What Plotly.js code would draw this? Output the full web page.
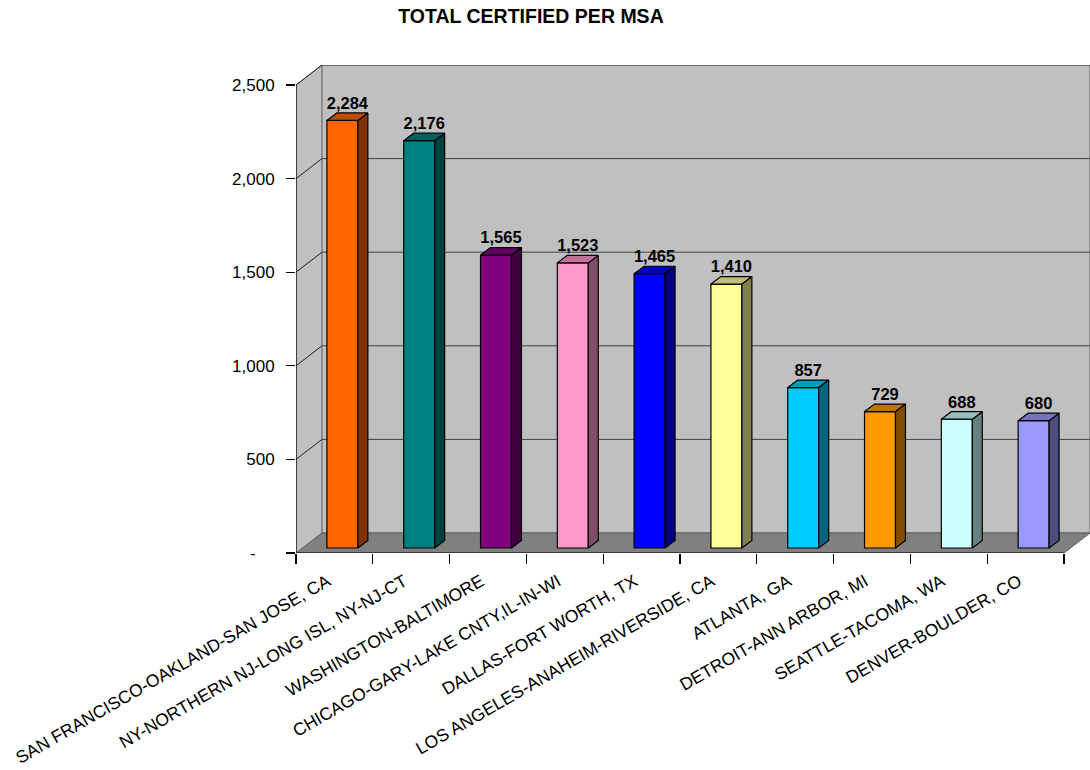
<!DOCTYPE html>
<html>
<head>
<meta charset="utf-8">
<script src="https://cdn.plot.ly/plotly-3.0.1.min.js"></script>
<style>html,body{margin:0;padding:0;background:#fff;}#chart{width:1090px;height:770px;}</style>
</head>
<body>
<div id="chart"></div>
<script>
// ---- data ----
const categories = [
  "SAN FRANCISCO-OAKLAND-SAN JOSE, CA",
  "NY-NORTHERN NJ-LONG ISL, NY-NJ-CT",
  "WASHINGTON-BALTIMORE",
  "CHICAGO-GARY-LAKE CNTY,IL-IN-WI",
  "DALLAS-FORT WORTH, TX",
  "LOS ANGELES-ANAHEIM-RIVERSIDE, CA",
  "ATLANTA, GA",
  "DETROIT-ANN ARBOR, MI",
  "SEATTLE-TACOMA, WA",
  "DENVER-BOULDER, CO"
];
const values = [2284, 2176, 1565, 1523, 1465, 1410, 857, 729, 688, 680];
const barColors = ["#FF6600", "#008080", "#800080", "#FF99CC", "#0000FF",
                   "#FFFF99", "#00CCFF", "#FF9900", "#CCFFFF", "#9999FF"];
const yTickVals = [0, 500, 1000, 1500, 2000, 2500];
const yTickText = ["-\u00A0\u00A0\u00A0\u00A0", "500", "1,000", "1,500", "2,000", "2,500"];
const titleText = "TOTAL CERTIFIED PER MSA";

// ---- geometry (pixel-derived 3D offsets converted to data units) ----
const PX_PER_CAT = 76.9, PX_PER_UNIT = 0.1872;
const DX = 26 / PX_PER_CAT, DY = 20 / PX_PER_UNIT;       // wall depth
const FX = 8 / PX_PER_CAT, FY = 5 / PX_PER_UNIT;         // bar front offset
const BW = 31 / PX_PER_CAT;                              // bar width
const BDX = 10 / PX_PER_CAT, BDY = 7.5 / PX_PER_UNIT;    // bar depth
const N = categories.length;
const xr = [-0.5, N - 0.5 + DX];
const yr = [0, 2500 + DY];

function shade(hex, f) {
  const n = parseInt(hex.slice(1), 16);
  const r = Math.round(((n >> 16) & 255) * f), g = Math.round(((n >> 8) & 255) * f), b = Math.round((n & 255) * f);
  return "rgb(" + r + "," + g + "," + b + ")";
}

const FAM = "Liberation Sans, Arial, sans-serif";
const idx = categories.map((c, i) => i);
const traces = [];
// front faces
traces.push({
  type: "bar", x: idx.map(i => i + FX), y: values, base: FY, width: BW,
  marker: {color: barColors, line: {color: "#000", width: 1.2}},
  hoverinfo: "skip", showlegend: false
});
// side and top faces
values.forEach((v, i) => {
  const xl = i + FX - BW / 2, xrr = i + FX + BW / 2, yb = FY, yt = FY + v;
  traces.push({
    type: "scatter", mode: "lines", fill: "toself", fillcolor: shade(barColors[i], 0.5),
    x: [xrr, xrr + BDX, xrr + BDX, xrr, xrr], y: [yb, yb + BDY, yt + BDY, yt, yb],
    line: {color: "#000", width: 1.2}, hoverinfo: "skip", showlegend: false
  });
  traces.push({
    type: "scatter", mode: "lines", fill: "toself", fillcolor: shade(barColors[i], 0.75),
    x: [xl, xrr, xrr + BDX, xl + BDX, xl], y: [yt, yt, yt + BDY, yt + BDY, yt],
    line: {color: "#000", width: 1.2}, hoverinfo: "skip", showlegend: false
  });
});
// data labels
traces.push({
  type: "scatter", mode: "text", xaxis: "x2",
  x: idx.map(i => i + FX + BDX / 2), y: values.map(v => v + FY + BDY),
  text: values.map(v => v.toLocaleString("en-US")), textposition: "top center",
  textfont: {family: FAM, size: 16.5, color: "#000", weight: "bold"},
  cliponaxis: false, hoverinfo: "skip", showlegend: false
});

// ---- frame shapes ----
const L = -0.5, R = N - 0.5;
const shapes = [];
shapes.push({type: "path", xref: "x", yref: "y", layer: "below",
  path: `M${L},0 L${L},2500 L${L + DX},${2500 + DY} L${L + DX},${DY} Z`,
  fillcolor: "#C0C0C0", line: {color: "#808080", width: 1}});
shapes.push({type: "rect", xref: "x", yref: "y", layer: "below",
  x0: L + DX, x1: R + DX, y0: DY, y1: 2500 + DY,
  fillcolor: "#C0C0C0", line: {color: "#808080", width: 1.5}});
shapes.push({type: "path", xref: "x", yref: "y", layer: "below",
  path: `M${L},0 L${R},0 L${R + DX},${DY} L${L + DX},${DY} Z`,
  fillcolor: "#808080", line: {color: "#606060", width: 1}});
yTickVals.slice(1).forEach(v => {
  shapes.push({type: "line", xref: "x", yref: "y", layer: "below",
    x0: L + DX, x1: R + DX, y0: v + DY, y1: v + DY, line: {color: "#404040", width: 1}});
  shapes.push({type: "line", xref: "x", yref: "y", layer: "below",
    x0: L, x1: L + DX, y0: v, y1: v + DY, line: {color: "#202020", width: 1}});
});
shapes.push({type: "line", xref: "x", yref: "y", x0: L, x1: L, y0: 0, y1: 2500, line: {color: "#000", width: 1.2}});
shapes.push({type: "line", xref: "x", yref: "y", x0: L, x1: R, y0: 0, y1: 0, line: {color: "#000", width: 1.2}});

const font = {family: FAM, size: 17, color: "#000"};
const layout = {
  width: 1090, height: 770,
  margin: {l: 296, r: 0, t: 65, b: 217, pad: 0},
  paper_bgcolor: "#fff", plot_bgcolor: "rgba(0,0,0,0)",
  font: font,
  title: {text: titleText, x: 531 / 1090, xref: "container", xanchor: "center",
          y: 1 - 16 / 770, yref: "container", yanchor: "middle",
          font: {family: FAM, size: 19.5, color: "#000", weight: "bold"}},
  xaxis: {type: "linear", range: xr, tickvals: idx, ticktext: categories, tickangle: -30,
          ticks: "", ticklabelstandoff: 14, ticklabelshift: -7,
          showgrid: false, zeroline: false, showline: false, fixedrange: true,
          tickfont: {family: FAM, size: 17.5, color: "#000"}},
  xaxis2: {type: "linear", range: xr, overlaying: "x", anchor: "y", side: "bottom",
           tickvals: [L].concat(idx.map(i => i + 0.5)), ticks: "outside", ticklen: 10,
           tickcolor: "#000", tickwidth: 1.2, showticklabels: false, showgrid: false,
           zeroline: false, showline: false, fixedrange: true},
  yaxis: {range: yr, tickvals: yTickVals, ticktext: yTickText, ticks: "outside", ticklen: 9,
          tickcolor: "#000", tickwidth: 1.2, ticklabelstandoff: 8, showgrid: false,
          zeroline: false, showline: false, fixedrange: true, tickfont: font},
  shapes: shapes,
  barmode: "overlay",
  showlegend: false
};
Plotly.newPlot("chart", traces, layout, {displayModeBar: false, staticPlot: true});
</script>
</body>
</html>
